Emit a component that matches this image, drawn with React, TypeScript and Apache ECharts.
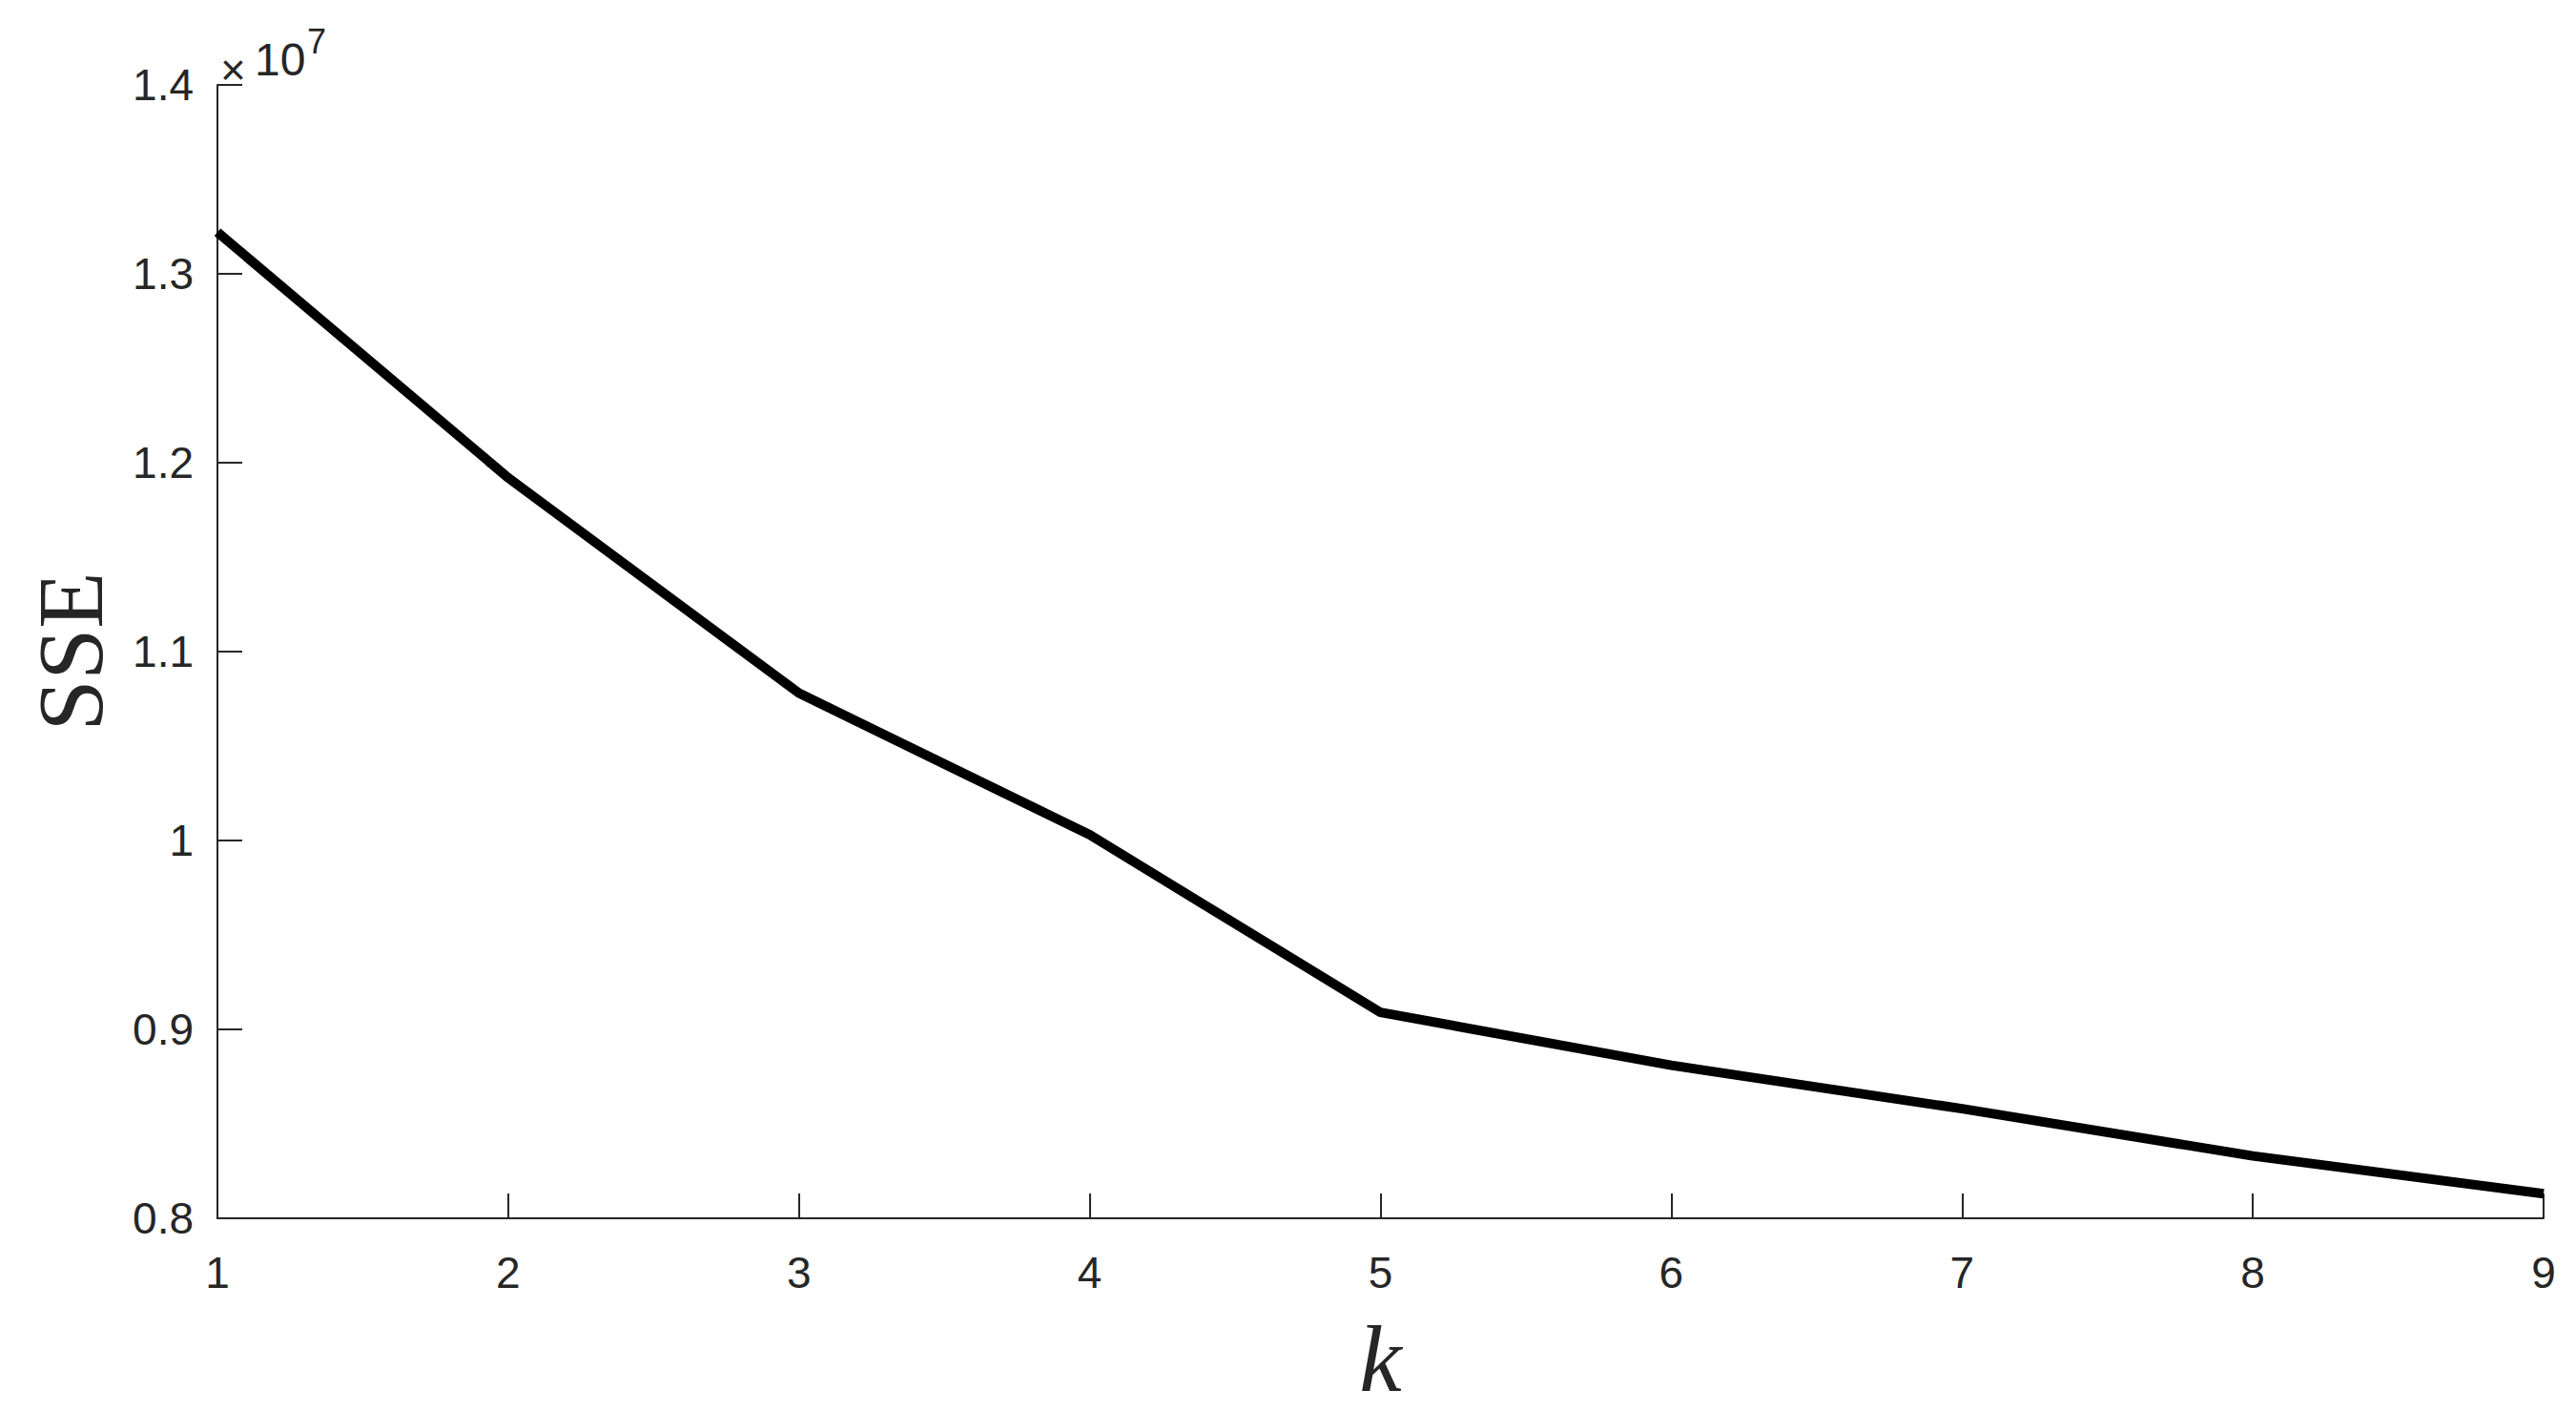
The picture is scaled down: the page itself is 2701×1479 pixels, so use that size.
import React, { useEffect, useRef } from "react";
import * as echarts from "echarts";

// Number of clusters k
const kValues: number[] = [1, 2, 3, 4, 5, 6, 7, 8, 9];
// Sum of squared errors for each k (raw values)
const sseValues: number[] = [
  13220000, 11920000, 10780000, 10030000, 9090000, 8810000, 8580000, 8330000, 8130000,
];
const yTickLabels: string[] = ["0.8", "0.9", "1", "1.1", "1.2", "1.3", "1.4"];
const xAxisName = "k";
const yAxisName = "SSE";
const exponentBase = "10";
const exponentPower = "7";

const AXIS_COLOR = "#262626";
const SANS = "'Liberation Sans', Arial, Helvetica, sans-serif";
const SERIF = "'Liberation Serif', 'Times New Roman', serif";

export default function App() {
  const ref = useRef<HTMLDivElement>(null);

  useEffect(() => {
    if (!ref.current) return;
    const chart = echarts.init(ref.current, undefined, { renderer: "svg" });
    const data = kValues.map((k, i) => [k, sseValues[i]]);
    chart.setOption({
      animation: false,
      backgroundColor: "#ffffff",
      grid: { left: 228, right: 34, top: 89, bottom: 193, containLabel: false },
      xAxis: {
        type: "value",
        min: 1,
        max: 9,
        interval: 1,
        name: xAxisName,
        nameLocation: "middle",
        nameGap: 97,
        nameTextStyle: {
          fontFamily: SERIF,
          fontStyle: "italic",
          fontSize: 100,
          color: AXIS_COLOR,
        },
        axisLine: { show: true, lineStyle: { color: AXIS_COLOR, width: 2 } },
        axisTick: { show: true, inside: true, length: 26, lineStyle: { color: AXIS_COLOR, width: 2 } },
        axisLabel: { fontFamily: SANS, fontSize: 46, color: AXIS_COLOR, margin: 34 },
        splitLine: { show: false },
      },
      yAxis: {
        type: "value",
        min: 8000000,
        max: 14000000,
        interval: 1000000,
        name: yAxisName,
        nameLocation: "middle",
        nameGap: 105,
        nameTextStyle: {
          fontFamily: SERIF,
          fontSize: 97,
          color: AXIS_COLOR,
        },
        axisLine: { show: true, lineStyle: { color: AXIS_COLOR, width: 2 } },
        axisTick: { show: true, inside: true, length: 26, lineStyle: { color: AXIS_COLOR, width: 2 } },
        axisLabel: {
          fontFamily: SANS,
          fontSize: 46,
          color: AXIS_COLOR,
          margin: 25,
          formatter: (v: number) => {
            const idx = Math.round((v - 8000000) / 1000000);
            return yTickLabels[idx] ?? "";
          },
        },
        splitLine: { show: false },
      },
      graphic: [
        {
          type: "text",
          left: 231,
          top: 50,
          style: { text: "×", fontFamily: SANS, fontSize: 46, fill: AXIS_COLOR },
        },
        {
          type: "text",
          left: 267,
          top: 38,
          style: { text: exponentBase, fontFamily: SANS, fontSize: 48, fill: AXIS_COLOR },
        },
        {
          type: "text",
          left: 322,
          top: 25,
          style: { text: exponentPower, fontFamily: SANS, fontSize: 36, fill: AXIS_COLOR },
        },
      ],
      series: [
        {
          type: "line",
          data,
          symbol: "none",
          lineStyle: { color: "#000000", width: 10 },
          clip: false,
        },
      ],
    });
    return () => chart.dispose();
  }, []);

  return (
    <div
      ref={ref}
      style={{ position: "fixed", left: 0, top: 0, width: 2701, height: 1479, background: "#fff" }}
    />
  );
}
